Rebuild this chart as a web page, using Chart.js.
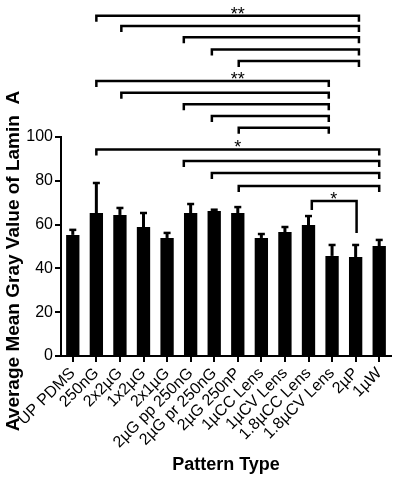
<!DOCTYPE html>
<html><head><meta charset="utf-8">
<script src="https://cdn.jsdelivr.net/npm/chart.js@4.4.1/dist/chart.umd.min.js"></script>
<style>html,body{margin:0;padding:0;background:#fff}canvas{display:block}</style>
</head><body>
<canvas id="c" width="397" height="489"></canvas>
<script>
const categories = ["UP PDMS","250nG","2x2µG","1x2µG","2x1µG","2µG pp 250nG","2µG pr 250nG","2µG 250nP","1µCC Lens","1µCV Lens","1.8µCC Lens","1.8µCV Lens","2µP","1µW"];
const means  = [55.3, 65.3, 64.4, 58.9, 53.9, 65.3, 66.2, 65.3, 53.9, 56.6, 59.8, 45.7, 45.2, 50.2];
const errors = [2.3, 13.7, 3.2, 6.4, 2.3, 4.1, 0.6, 2.7, 1.8, 2.3, 4.1, 5.0, 5.5, 2.8];
const yTicks = [0, 20, 40, 60, 80, 100];
const yTitle = "Average Mean Gray Value of Lamin  A";
const xTitle = "Pattern Type";

// significance brackets (category positions and levels in data units)
const bracketFrom  = [1.0, 2.06, 4.71, 5.9, 7.04,  1.0, 2.06, 4.71, 5.9, 7.04,  1.0, 4.71, 5.9, 7.04,  10.14];
const bracketTo    = [12.14, 12.14, 12.14, 12.14, 12.14,  10.86, 10.86, 10.86, 10.86, 10.86,  13.0, 13.0, 13.0, 13.0,  12.04];
const bracketLevel = [155.4, 150.7, 145.5, 140.0, 134.7,  125.6, 120.2, 114.9, 109.6, 104.2,  94.3, 89.0, 83.6, 77.6,  70.8];
const bracketLegL  = [null, null, null, null, null, null, null, null, null, null, null, null, null, null, 66.7];
const bracketLegR  = [null, null, null, null, null, null, null, null, null, null, null, null, null, null, 56.2];
const starText  = ["**", "**", "*", "*"];
const starPos   = [7.0, 7.0, 7.0, 11.07];
const starLevel = [155.4, 125.6, 94.3, 70.8];

const FONT = "Arial, 'Liberation Sans', sans-serif";

const overlay = {
  id: 'overlay',
  afterDatasetsDraw(chart) {
    const ctx = chart.ctx;
    const xs = chart.scales.x, ys = chart.scales.y;
    const meta = chart.getDatasetMeta(0);
    ctx.save();
    ctx.strokeStyle = '#000';
    ctx.fillStyle = '#000';
    // error bars (upper only)
    meta.data.forEach((bar, i) => {
      const x = bar.x;
      const y0 = ys.getPixelForValue(means[i]);
      const y1 = ys.getPixelForValue(means[i] + errors[i]);
      ctx.lineWidth = 3;
      ctx.beginPath(); ctx.moveTo(x, y0); ctx.lineTo(x, y1); ctx.stroke();
      ctx.lineWidth = 2.5;
      ctx.beginPath(); ctx.moveTo(x - 3.5, y1); ctx.lineTo(x + 3.5, y1); ctx.stroke();
    });
    // brackets
    ctx.lineWidth = 2.5;
    ctx.lineJoin = 'miter';
    ctx.lineCap = 'butt';
    for (let i = 0; i < bracketFrom.length; i++) {
      const x1 = xs.getPixelForValue(bracketFrom[i]);
      const x2 = xs.getPixelForValue(bracketTo[i]);
      const y = ys.getPixelForValue(bracketLevel[i]);
      const yl = bracketLegL[i] === null ? y + 6 : ys.getPixelForValue(bracketLegL[i]);
      const yr = bracketLegR[i] === null ? y + 6 : ys.getPixelForValue(bracketLegR[i]);
      ctx.beginPath();
      ctx.moveTo(x1, yl); ctx.lineTo(x1, y); ctx.lineTo(x2, y); ctx.lineTo(x2, yr);
      ctx.stroke();
    }
    // stars
    ctx.font = '18px ' + FONT;
    ctx.textAlign = 'center';
    ctx.textBaseline = 'alphabetic';
    for (let i = 0; i < starText.length; i++) {
      const x = xs.getPixelForValue(starPos[i]);
      const y = ys.getPixelForValue(starLevel[i]);
      ctx.fillText(starText[i], x, y + 4);
    }
    // y title
    ctx.font = 'bold 19px ' + FONT;
    ctx.translate(14, 261);
    ctx.rotate(-Math.PI / 2);
    ctx.textBaseline = 'middle';
    ctx.fillText(yTitle, 0, 0);
    ctx.restore();
  }
};

new Chart(document.getElementById('c'), {
  type: 'bar',
  data: {
    labels: categories,
    datasets: [{
      data: means,
      backgroundColor: '#000',
      borderWidth: 0,
      barPercentage: 0.565,
      categoryPercentage: 1.0
    }]
  },
  options: {
    responsive: false,
    devicePixelRatio: 1,
    animation: false,
    layout: { padding: { top: 137, right: 6, left: 0, bottom: 0 } },
    plugins: { legend: { display: false }, tooltip: { enabled: false } },
    scales: {
      x: {
        afterFit: (s) => { s.height = 133; },
        grid: { drawOnChartArea: false, drawTicks: true, tickLength: 6, color: '#000', lineWidth: 2, offset: false },
        border: { color: '#000', width: 2 },
        ticks: { color: '#000', font: { family: FONT, size: 16 }, minRotation: 45, maxRotation: 45, autoSkip: false, padding: 2 },
        title: { display: true, text: xTitle, color: '#000', font: { family: FONT, size: 18, weight: 'bold' }, padding: { top: 4, bottom: 13 } }
      },
      y: {
        min: 0, max: 100,
        afterFit: (s) => { s.width = 61; },
        afterBuildTicks: (s) => { s.ticks = yTicks.map(v => ({ value: v })); },
        grid: { drawOnChartArea: false, drawTicks: true, tickLength: 6, color: '#000', lineWidth: 2 },
        border: { color: '#000', width: 2 },
        ticks: { color: '#000', font: { family: FONT, size: 16 }, padding: 2 }
      }
    }
  },
  plugins: [overlay]
});
</script>
</body></html>
